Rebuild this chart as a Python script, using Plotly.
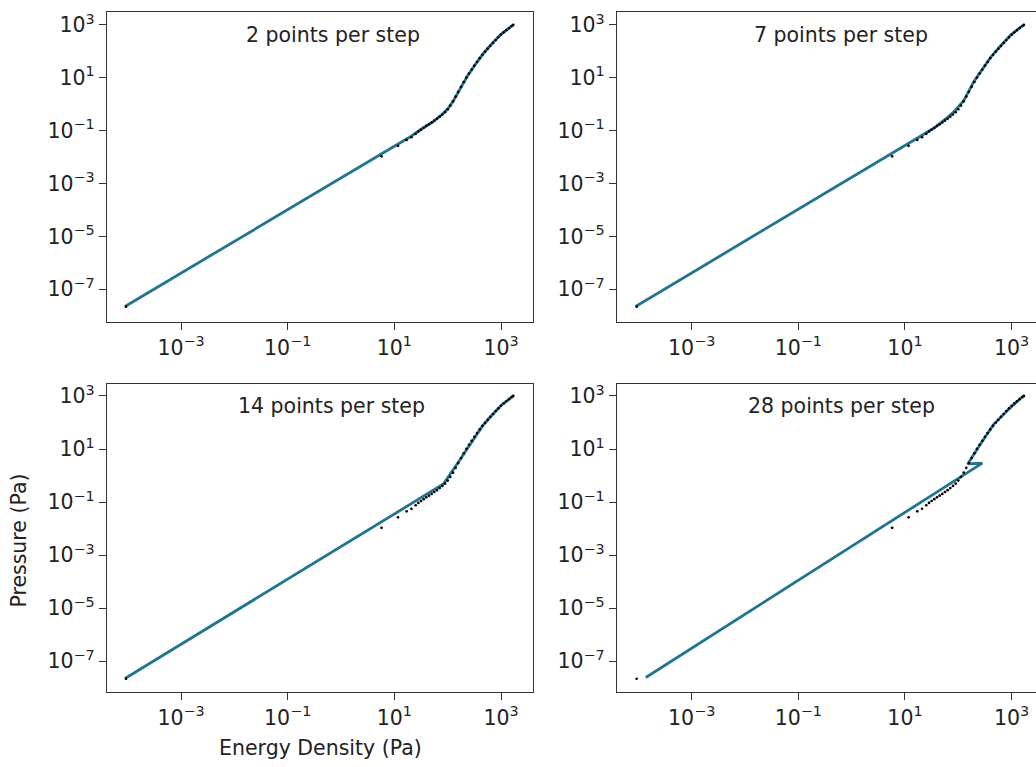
import plotly.graph_objects as go

# ---------------- data ----------------
# tabulated equation of state (black dots): energy density / pressure in Pa
eos_eps = [9.3e-5, 5.75, 11.7, 17.0, 20.9, 25.1, 28.2, 31.6, 35.5, 39.8, 44.7, 50.1,
           56.2, 63.1, 70.8, 79.4, 89.1, 100, 112, 126, 141, 158, 178, 200, 224, 251,
           282, 316, 355, 398, 447, 501, 562, 631, 708, 794, 891, 1000, 1122, 1259,
           1413, 1585, 1698]
eos_p = [2.2e-8, 0.0107, 0.0266, 0.0447, 0.0562, 0.0759, 0.0933, 0.110, 0.129, 0.151,
         0.174, 0.204, 0.240, 0.282, 0.339, 0.407, 0.501, 0.646, 0.891, 1.29, 1.95,
         2.95, 4.57, 6.92, 10.2, 14.5, 20.4, 28.8, 39.8, 55.0, 74.1, 97.7, 126, 162,
         209, 269, 339, 427, 525, 631, 759, 912, 1000]

# reconstructed curves (teal lines), one per panel
fit2_eps = [8.9e-5, 5.75, 18.2, 34.7, 53.7, 79.4, 100, 129, 158, 229, 316, 468, 631, 955, 1259, 1698]
fit2_p = [2.24e-8, 0.0132, 0.0525, 0.126, 0.219, 0.417, 0.661, 1.38, 2.95, 10.7, 28.2, 83.2, 166, 407, 631, 1000]

fit7_eps = [8.9e-5, 34.7, 63.1, 89.1, 126, 195, 282, 407, 631, 955, 1479, 1698]
fit7_p = [2.24e-8, 0.123, 0.316, 0.603, 1.35, 7.08, 20.9, 60.3, 166, 407, 832, 1000]

fit14_eps = [8.9e-5, 83.2, 158, 302, 447, 631, 1000, 1698]
fit14_p = [2.24e-8, 0.479, 3.16, 22.9, 72.4, 162, 437, 1000]

fit28_eps = [1.38e-4, 282, 150, 178, 263, 457, 851, 1549, 1698]
fit28_p = [2.45e-8, 2.95, 2.75, 4.79, 15.8, 83.2, 295, 891, 1000]

panel_titles = ["2 points per step", "7 points per step", "14 points per step", "28 points per step"]
x_ticks = [1e-3, 1e-1, 1e1, 1e3]
x_ticktext = ["10<sup>−3</sup>", "10<sup>−1</sup>", "10<sup>1</sup>", "10<sup>3</sup>"]
y_ticks = [1e-7, 1e-5, 1e-3, 1e-1, 1e1, 1e3]
y_ticktext = ["10<sup>−7</sup>", "10<sup>−5</sup>", "10<sup>−3</sup>", "10<sup>−1</sup>",
              "10<sup>1</sup>", "10<sup>3</sup>"]
x_label = "Energy Density (Pa)"
y_label = "Pressure (Pa)"

# ---------------- figure ----------------
W, H = 1036, 767
FONT = "DejaVu Sans"
LINE_COLOR = "#23748f"
TXT = "#222222"
FS = 20.5

fits = [(fit2_eps, fit2_p), (fit7_eps, fit7_p), (fit14_eps, fit14_p), (fit28_eps, fit28_p)]

# pixel layout of the four panels (left, right, top, bottom)
panels = [
    dict(x0=107, x1=533, y0=10, y1=321, xr=[-4.3875, 3.6], yr=[-8.245, 3.49]),
    dict(x0=617, x1=1036, y0=10, y1=321, xr=[-4.40, 3.457], yr=[-8.245, 3.49]),
    dict(x0=107, x1=533, y0=383, y1=692, xr=[-4.3875, 3.6], yr=[-8.165, 3.451]),
    dict(x0=617, x1=1036, y0=383, y1=692, xr=[-4.40, 3.457], yr=[-8.165, 3.451]),
]

fig = go.Figure()
layout = dict(
    width=W, height=H,
    margin=dict(l=0, r=0, t=0, b=0),
    paper_bgcolor="white", plot_bgcolor="white",
    showlegend=False,
    font=dict(family=FONT, size=FS, color=TXT),
)

for i, p in enumerate(panels):
    n = "" if i == 0 else str(i + 1)
    xa, ya = "x" + n, "y" + n
    fe, fp = fits[i]
    fig.add_trace(go.Scatter(x=fe, y=fp, mode="lines",
                             line=dict(color=LINE_COLOR, width=2.8),
                             xaxis=xa, yaxis=ya, hoverinfo="skip"))
    fig.add_trace(go.Scatter(x=eos_eps, y=eos_p, mode="markers",
                             marker=dict(color="black", size=2.7),
                             xaxis=xa, yaxis=ya, hoverinfo="skip"))
    right_col = i in (1, 3)
    layout["xaxis" + n] = dict(
        type="log", range=p["xr"],
        domain=[p["x0"] / W, p["x1"] / W],
        anchor=ya,
        tickvals=x_ticks, ticktext=x_ticktext,
        ticks="outside", ticklen=7, tickwidth=1.2, tickcolor="#333",
        showline=True, linecolor="#333", linewidth=1.3, mirror=True,
        showgrid=False, zeroline=False,
        tickfont=dict(family=FONT, size=FS, color=TXT),
    )
    layout["yaxis" + n] = dict(
        type="log", range=p["yr"],
        domain=[1 - p["y1"] / H, 1 - p["y0"] / H],
        anchor=xa,
        tickvals=y_ticks, ticktext=y_ticktext,
        ticks="outside", ticklen=7, tickwidth=1.2, tickcolor="#333",
        showline=True, linecolor="#333", linewidth=1.3,
        mirror=False if right_col else True,
        showgrid=False, zeroline=False,
        tickfont=dict(family=FONT, size=FS, color=TXT),
    )

fig.update_layout(**layout)

# panel captions
cap_pos = [(333, 33), (841, 33), (331, 405), (841, 405)]
for (cx, cy), t in zip(cap_pos, panel_titles):
    fig.add_annotation(text=t, x=cx / W, y=1 - cy / H, xref="paper", yref="paper",
                       xanchor="center", yanchor="middle", showarrow=False,
                       font=dict(family=FONT, size=FS, color=TXT))

# axis labels (only on lower-left panel)
fig.add_annotation(text=x_label, x=320 / W, y=1 - 748 / H, xref="paper", yref="paper",
                   xanchor="center", yanchor="middle", showarrow=False,
                   font=dict(family=FONT, size=FS, color=TXT))
fig.add_annotation(text=y_label, x=19 / W, y=1 - 540 / H, xref="paper", yref="paper",
                   xanchor="center", yanchor="middle", showarrow=False, textangle=-90,
                   font=dict(family=FONT, size=FS, color=TXT))

fig.write_html("out.html",
               config={"displayModeBar": False},
               post_script="document.body.style.margin='0px';document.body.style.overflow='hidden';")
